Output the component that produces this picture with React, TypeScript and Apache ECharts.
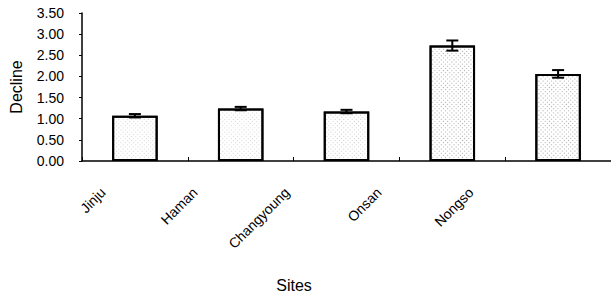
import React, { useEffect, useRef } from "react";
import * as echarts from "echarts";

const categories = ["Jinju", "Haman", "Changyoung", "Onsan", "Nongso"];
const declineValues = [1.07, 1.24, 1.17, 2.73, 2.06];
const errorValues = [0.04, 0.04, 0.04, 0.12, 0.09];
const yTicks = [0, 0.5, 1, 1.5, 2, 2.5, 3, 3.5];
const decalDensity = [0.25, 0.25, 0.3, 0.5, 0.5];

const FONT = "Liberation Sans";

export default function App() {
  const ref = useRef<HTMLDivElement>(null);
  useEffect(() => {
    if (!ref.current) return;
    const chart = echarts.init(ref.current, null, { renderer: "svg" });
    const option: any = {
      animation: false,
      backgroundColor: "#ffffff",
      grid: [
        { left: 79, top: 13, width: 535, height: 148 },
        { left: 57, top: 13, width: 460, height: 148 },
      ],
      xAxis: [
        {
          type: "category",
          gridIndex: 0,
          data: categories,
          axisLine: { show: true, lineStyle: { color: "#000", width: 1.5 } },
          axisTick: { show: true, inside: true, length: 4, lineStyle: { color: "#000", width: 1 } },
          axisLabel: { show: false },
        },
        {
          type: "category",
          gridIndex: 1,
          data: categories,
          axisLine: { show: false },
          axisTick: { show: false },
          axisLabel: {
            show: true,
            rotate: 45,
            margin: 29,
            color: "#000",
            fontFamily: FONT,
            fontSize: 14,
          },
          name: "Sites",
          nameLocation: "middle",
          nameGap: 116,
          nameTextStyle: { color: "#000", fontFamily: FONT, fontSize: 16, padding: [0, 0, 0, 14] },
        },
      ],
      yAxis: [
        {
          type: "value",
          gridIndex: 0,
          min: yTicks[0],
          max: yTicks[yTicks.length - 1],
          interval: 0.5,
          splitLine: { show: false },
          axisLine: { show: true, lineStyle: { color: "#000", width: 1.5 } },
          axisTick: { show: true, length: 3, lineStyle: { color: "#000" } },
          axisLabel: {
            color: "#000",
            fontFamily: FONT,
            fontSize: 14,
            margin: 18,
            formatter: (v: number) => v.toFixed(2),
          },
          name: "Decline",
          nameLocation: "middle",
          nameGap: 58,
          nameTextStyle: { color: "#000", fontFamily: FONT, fontSize: 16 },
        },
        {
          type: "value",
          gridIndex: 1,
          show: false,
          min: 0,
          max: 3.5,
        },
      ],
      series: [
        {
          type: "bar",
          xAxisIndex: 0,
          yAxisIndex: 0,
          barWidth: "43%",
          data: declineValues.map((v, i) => ({
            value: v,
            itemStyle: {
              color: "#ffffff",
              borderColor: "#000",
              borderWidth: 2,
              decal: {
                symbol: "rect",
                symbolSize: 1,
                color: `rgba(90,90,90,${decalDensity[i]})`,
                dashArrayX: [1, 2],
                dashArrayY: [1, 2],
                rotation: 0.785,
              },
            },
          })),
        },
        {
          type: "custom",
          xAxisIndex: 0,
          yAxisIndex: 0,
          data: declineValues.map((v, i) => [i, v - errorValues[i], v + errorValues[i]]),
          renderItem: (params: any, api: any) => {
            const x = api.value(0);
            const lo = api.coord([x, api.value(1)]);
            const hi = api.coord([x, api.value(2)]);
            const hw = 6;
            const style = { stroke: "#000", lineWidth: 2 };
            return {
              type: "group",
              children: [
                { type: "line", shape: { x1: lo[0], y1: lo[1], x2: hi[0], y2: hi[1] }, style },
                { type: "line", shape: { x1: hi[0] - hw, y1: hi[1], x2: hi[0] + hw, y2: hi[1] }, style },
                { type: "line", shape: { x1: lo[0] - hw, y1: lo[1], x2: lo[0] + hw, y2: lo[1] }, style },
              ],
            };
          },
          z: 5,
        },
      ],
    };
    chart.setOption(option);
    return () => chart.dispose();
  }, []);
  return <div ref={ref} style={{ width: 611, height: 296, position: "absolute", left: 0, top: 0 }} />;
}
